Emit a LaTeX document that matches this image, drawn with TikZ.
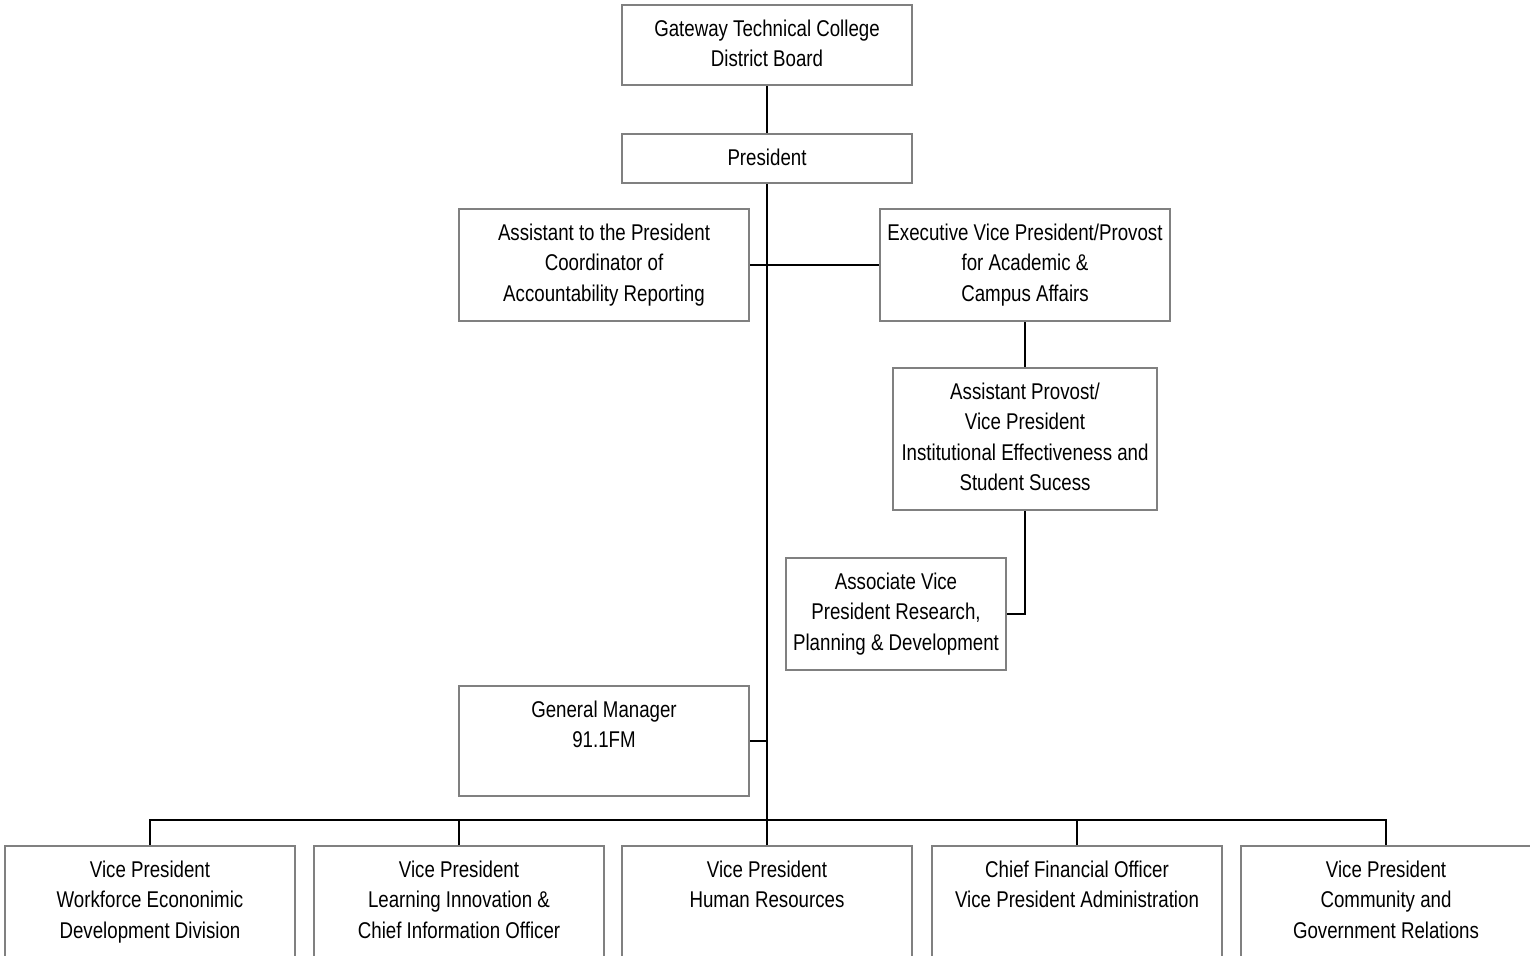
\documentclass[tikz,border=0pt]{standalone}
\usepackage{fontspec}
\setmainfont{Liberation Sans}[FakeStretch=0.82]
\begin{document}
\begin{tikzpicture}[x=1pt,y=-1pt,
  box/.style={draw=black!50, line width=2pt, fill=white, inner sep=0pt, anchor=north west},
  txt/.style={inner sep=0pt, anchor=north, align=center, font=\fontsize{22.8}{30.5}\selectfont},
  conn/.style={draw=black, line width=2pt}]
\useasboundingbox (0,0) rectangle (1530,955);
% boxes
\node[box, minimum width=290pt, minimum height=80pt] (board) at (621,4) {};
\node[box, minimum width=290pt, minimum height=49pt] (pres) at (621,133) {};
\node[box, minimum width=290pt, minimum height=112pt] (asst) at (458,208) {};
\node[box, minimum width=290pt, minimum height=112pt] (evp) at (879,208) {};
\node[box, minimum width=264pt, minimum height=142pt] (ap) at (892,367) {};
\node[box, minimum width=220pt, minimum height=112pt] (avp) at (785,557) {};
\node[box, minimum width=290pt, minimum height=110pt] (gm) at (458,685) {};
\node[box, minimum width=290pt, minimum height=115pt] (vpa) at (4,845) {};
\node[box, minimum width=290pt, minimum height=115pt] (vpb) at (313,845) {};
\node[box, minimum width=290pt, minimum height=115pt] (vpc) at (621,845) {};
\node[box, minimum width=290pt, minimum height=115pt] (vpd) at (931,845) {};
\node[box, minimum width=290pt, minimum height=115pt] (vpe) at (1240,845) {};
% texts
\node[txt] (board-t) at ([yshift=-15.5pt]board.north) {Gateway Technical College\\District Board};
\node[txt] (pres-t) at ([yshift=-15.5pt]pres.north) {President};
\node[txt] (asst-t) at ([yshift=-15.5pt]asst.north) {Assistant to the President\\Coordinator of\\Accountability Reporting};
\node[txt] (evp-t) at ([yshift=-15.5pt]evp.north) {Executive Vice President/Provost\\for Academic \&\\Campus Affairs};
\node[txt] (ap-t) at ([yshift=-15.5pt]ap.north) {Assistant Provost/\\Vice President\\Institutional Effectiveness and\\Student Sucess};
\node[txt] (avp-t) at ([yshift=-15.5pt]avp.north) {Associate Vice\\President Research,\\Planning \& Development};
\node[txt] (gm-t) at ([yshift=-15.5pt]gm.north) {General Manager\\91.1FM};
\node[txt] (vpa-t) at ([yshift=-15.5pt]vpa.north) {Vice President\\Workforce Econonimic\\Development Division};
\node[txt] (vpb-t) at ([yshift=-15.5pt]vpb.north) {Vice President\\Learning Innovation \&\\Chief Information Officer};
\node[txt] (vpc-t) at ([yshift=-15.5pt]vpc.north) {Vice President\\Human Resources};
\node[txt] (vpd-t) at ([yshift=-15.5pt]vpd.north) {Chief Financial Officer\\Vice President Administration};
\node[txt] (vpe-t) at ([yshift=-15.5pt]vpe.north) {Vice President\\Community and\\Government Relations};
% connectors
\coordinate (bus) at (766,820);
\draw[conn] (board.south) -- (pres.north);
\draw[conn] (pres.south) -- (pres.south |- bus);
\draw[conn] (asst.east) -- (evp.west);
\draw[conn] (gm.east) -- (gm.east -| pres.south);
\draw[conn] (evp.south) -- (ap.north);
\draw[conn] (ap.south) |- (avp.east);
\draw[conn] (vpa.north) |- (bus) -| (vpe.north);
\draw[conn] (vpb.north) -- (vpb.north |- bus);
\draw[conn] (vpc.north) -- (vpc.north |- bus);
\draw[conn] (vpd.north) -- (vpd.north |- bus);
\end{tikzpicture}
\end{document}
